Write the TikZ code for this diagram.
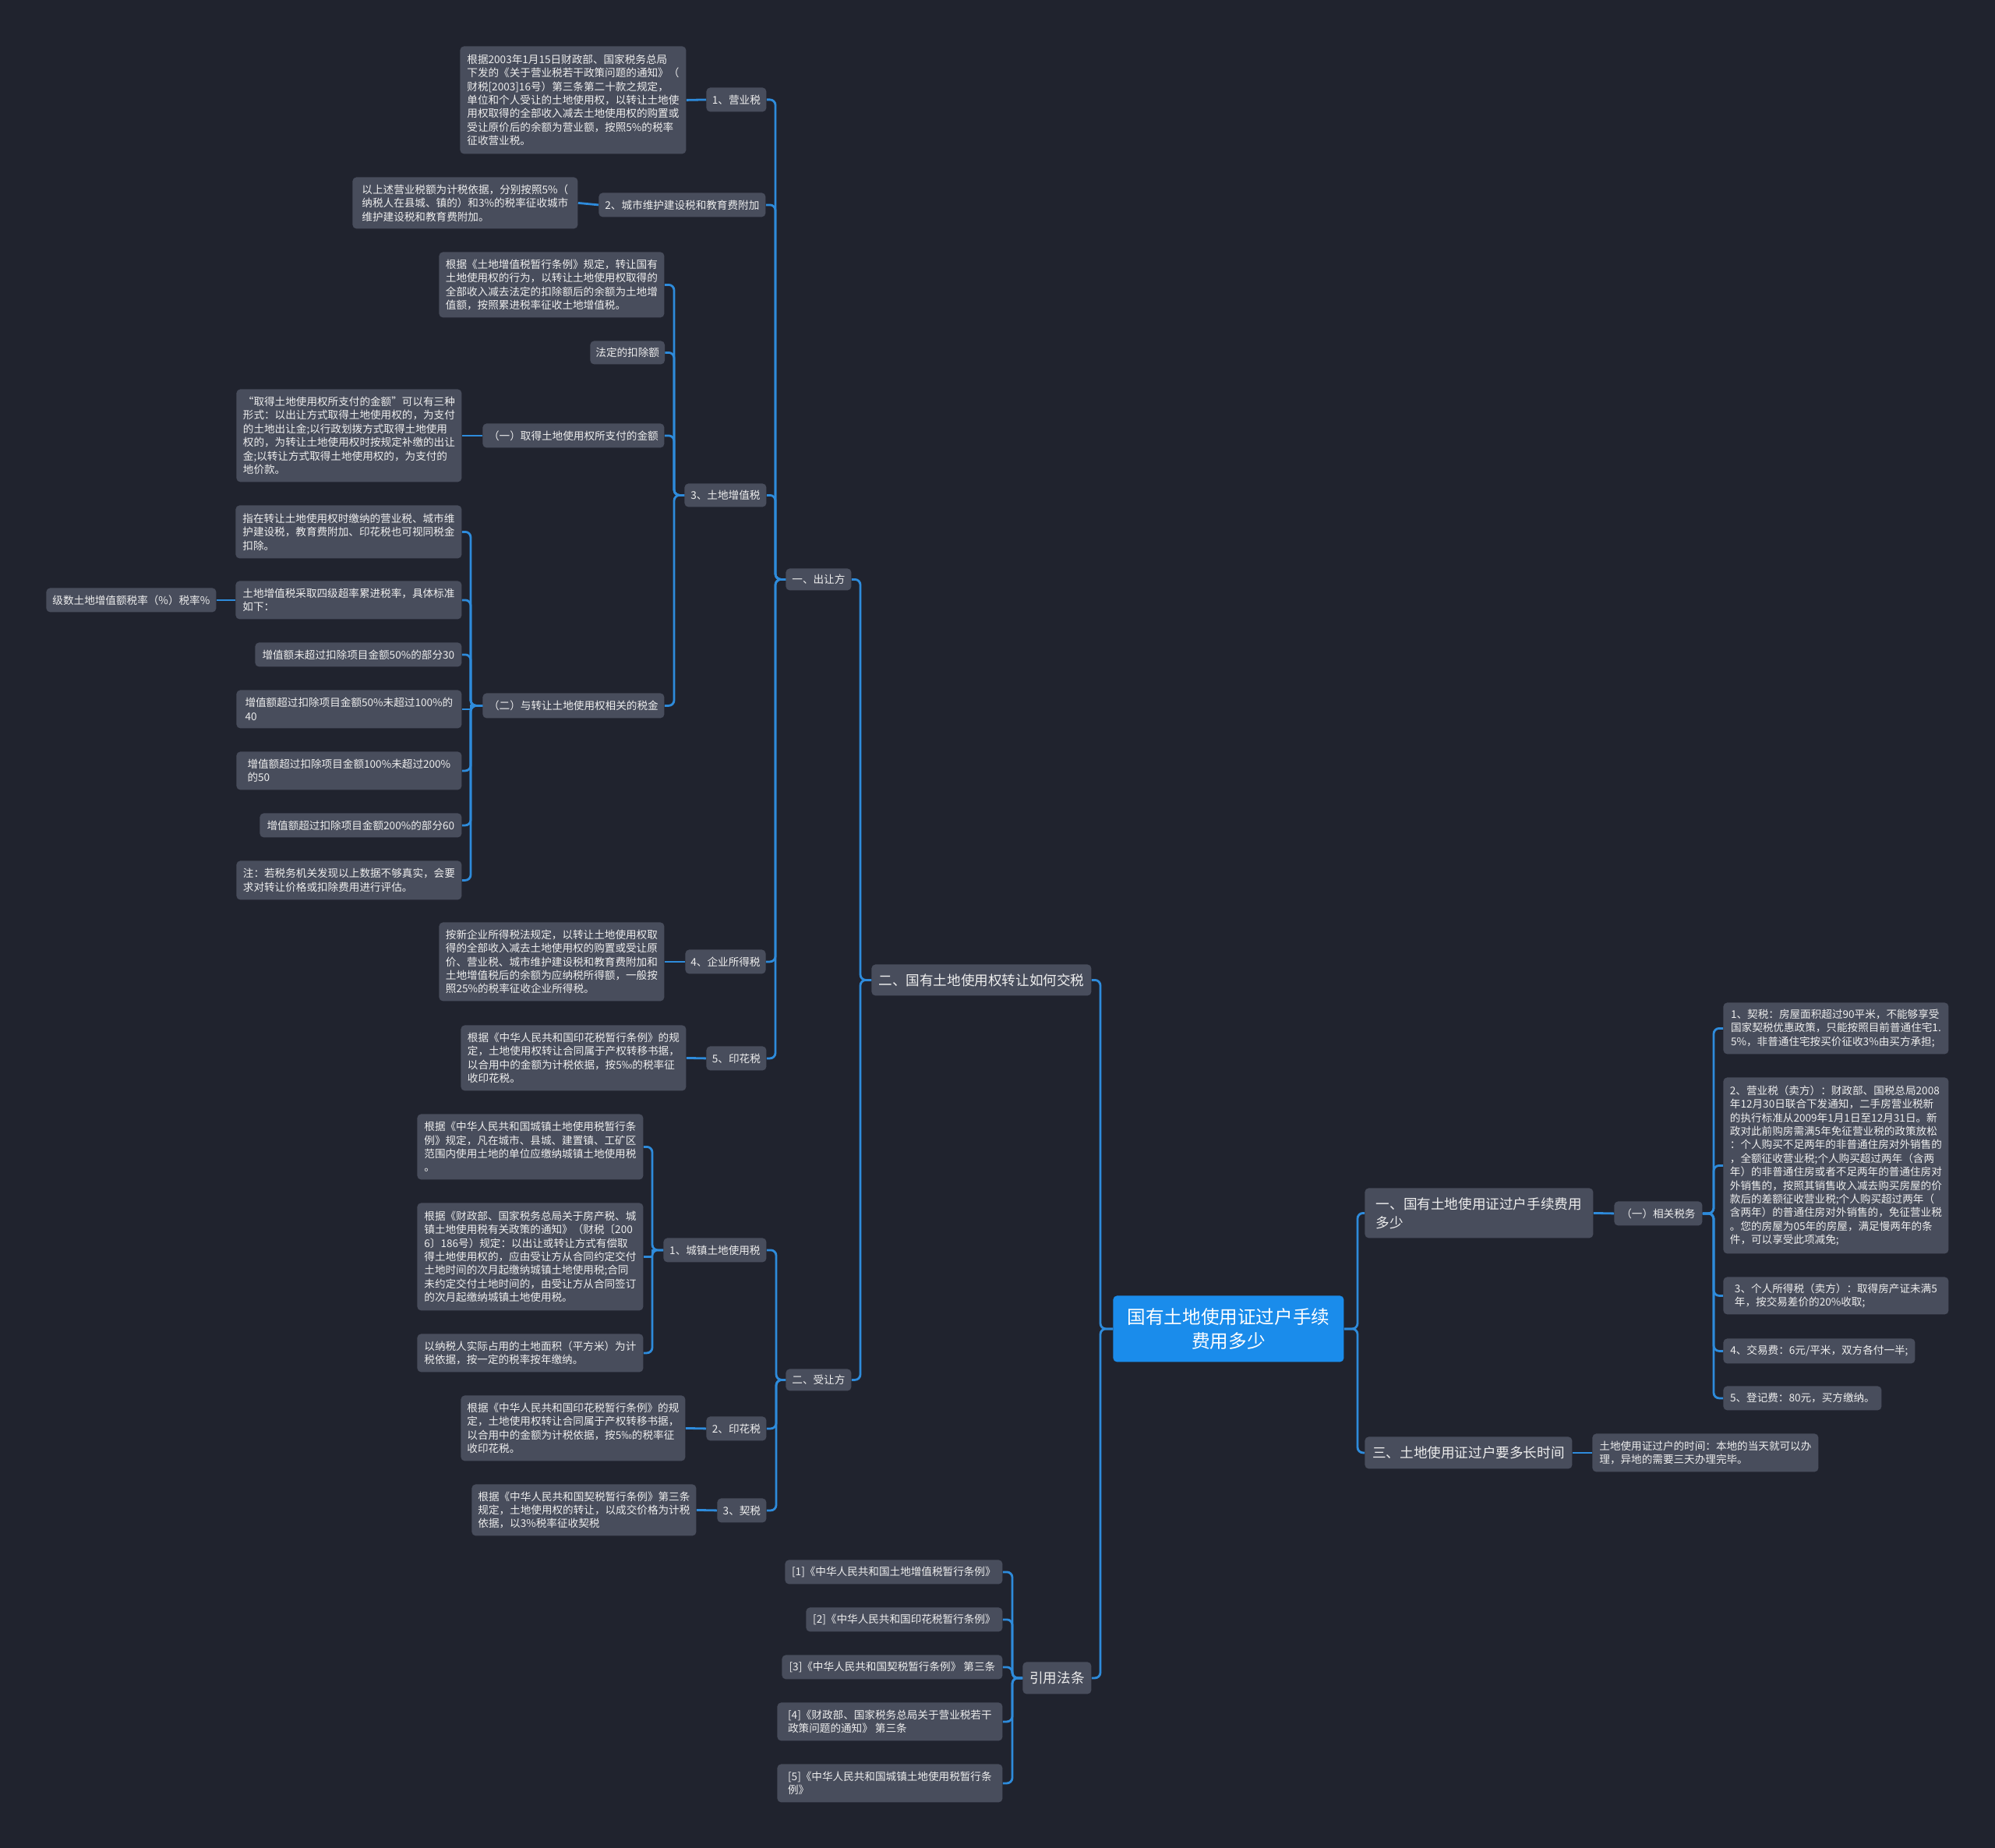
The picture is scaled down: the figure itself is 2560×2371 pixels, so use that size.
\documentclass[tikz,border=0pt]{standalone}
\usepackage{fontspec}
\setmainfont{Noto Sans CJK SC}
\definecolor{bgc}{HTML}{20232E}
\definecolor{boxc}{HTML}{484D5C}
\definecolor{txtc}{HTML}{EEEEEE}
\definecolor{linec}{HTML}{2E8BDB}
\definecolor{rootc}{HTML}{1A8CEB}
\newcommand\fsS{\fontsize{6.8pt}{8.7pt}\selectfont}
\newcommand\fsM{\fontsize{8.8pt}{12pt}\selectfont}
\newcommand\fsL{\fontsize{11.8pt}{15.5pt}\selectfont}
\newcommand\lnk[3]{\draw[conn] (#1.east) [rounded corners=3.5pt] -- (#1.east -| #3) -- (#3 |- #2.west) [sharp corners] -- (#2.west);}
\newcommand\lnks[3]{\draw[conn] (#1.east) -- (#1.east -| #3) -- (#3 |- #2.west) -- (#2.west);}
\newcommand\rnk[3]{\draw[conn] (#1.west) [rounded corners=3.5pt] -- (#1.west -| #3) -- (#3 |- #2.east) [sharp corners] -- (#2.east);}
\begin{document}
\begin{tikzpicture}[x=0.5pt,y=-0.5pt,
  box/.style={fill=boxc, text=txtc, rounded corners=2.5pt, inner xsep=3.5pt, inner ysep=0pt, anchor=north west, align=left, font=\fsS},
  rbox/.style={box},
  mbox/.style={box, font=\fsM},
  conn/.style={draw=linec, line width=1.4pt}]
\fill[bgc] (0,0) rectangle (2560,2371);
\useasboundingbox (0,0) rectangle (2560,2371);
% buses
\coordinate (bA) at (995,0);
\coordinate (bB) at (996,0);
\coordinate (bZ) at (865,0);
\coordinate (bQ) at (604,0);
\coordinate (bCZ) at (837,0);
\coordinate (bTwo) at (1104,0);
\coordinate (bYY) at (1299,0);
\coordinate (bRoot) at (1412,0);
\coordinate (bR) at (1742,0);
\coordinate (bXG) at (2199,0);
% root
\node[box, fill=rootc, text=white, font=\fsL, align=center, minimum width=148pt, minimum height=42.5pt] (root) at (1428,1662) {国有土地使用证过户手续\\费用多少};
% level 1 left
\node[mbox, minimum width=141pt, minimum height=20pt] (two) at (1118,1237) {二、国有土地使用权转让如何交税};
\node[mbox, minimum width=44pt, minimum height=20.5pt] (yy) at (1312,2132) {引用法条};
\node[box, minimum width=42pt, minimum height=14pt] (crf) at (1008,729) {一、出让方};
\node[box, minimum width=42pt, minimum height=14pt] (srf) at (1008,1756) {二、受让方};
% 出让方 children
\node[box, minimum width=38.5pt, minimum height=15.5pt] (yys) at (906,112) {1、营业税};
\node[box, minimum width=145pt, minimum height=69pt] (yyst) at (590,59) {根据2003年1月15日财政部、国家税务总局\\下发的《关于营业税若干政策问题的通知》（\\财税[2003]16号）第三条第二十款之规定，\\单位和个人受让的土地使用权，以转让土地使\\用权取得的全部收入减去土地使用权的购置或\\受让原价后的余额为营业额，按照5\%的税率\\征收营业税。};
\node[box, minimum width=107pt, minimum height=15.5pt] (cs) at (768,247) {2、城市维护建设税和教育费附加};
\node[box, minimum width=144.5pt, minimum height=33pt] (cst) at (452,227) {以上述营业税额为计税依据，分别按照5\%（\\纳税人在县城、镇的）和3\%的税率征收城市\\维护建设税和教育费附加。};
\node[box, minimum width=52.5pt, minimum height=15pt] (zz) at (878,620) {3、土地增值税};
\node[box, minimum width=144.5pt, minimum height=42pt] (zzt) at (563,323) {根据《土地增值税暂行条例》规定，转让国有\\土地使用权的行为，以转让土地使用权取得的\\全部收入减去法定的扣除额后的余额为土地增\\值额，按照累进税率征收土地增值税。};
\node[box, minimum width=47.5pt, minimum height=15pt] (fd) at (757,437) {法定的扣除额};
\node[box, minimum width=116.5pt, minimum height=15.5pt] (q1) at (619,543) {（一）取得土地使用权所支付的金额};
\node[box, minimum width=144.5pt, minimum height=59.5pt] (q1t) at (303,499) {“取得土地使用权所支付的金额”可以有三种\\形式：以出让方式取得土地使用权的，为支付\\的土地出让金;以行政划拨方式取得土地使用\\权的，为转让土地使用权时按规定补缴的出让\\金;以转让方式取得土地使用权的，为支付的\\地价款。};
\node[box, minimum width=116.5pt, minimum height=16pt] (q2) at (619,889) {（二）与转让土地使用权相关的税金};
\node[box, minimum width=145pt, minimum height=34pt] (a1) at (302,648) {指在转让土地使用权时缴纳的营业税、城市维\\护建设税，教育费附加、印花税也可视同税金\\扣除。};
\node[box, minimum width=145pt, minimum height=24.5pt] (a2) at (302,745) {土地增值税采取四级超率累进税率，具体标准\\如下：};
\node[box, minimum width=109pt, minimum height=15.5pt] (a2c) at (59,754) {级数土地增值额税率（\%）税率\%};
\node[box, minimum width=132.5pt, minimum height=15.5pt] (a3) at (327,824) {增值额未超过扣除项目金额50\%的部分30};
\node[box, minimum width=144.5pt, minimum height=24.5pt] (a4) at (303,885) {增值额超过扣除项目金额50\%未超过100\%的\\40};
\node[box, minimum width=144.5pt, minimum height=24.5pt] (a5) at (303,964) {增值额超过扣除项目金额100\%未超过200\%\\的50};
\node[box, minimum width=129.5pt, minimum height=15.5pt] (a6) at (333,1043) {增值额超过扣除项目金额200\%的部分60};
\node[box, minimum width=144.5pt, minimum height=25pt] (a7) at (303,1104) {注：若税务机关发现以上数据不够真实，会要\\求对转让价格或扣除费用进行评估。};
\node[box, minimum width=51pt, minimum height=15.5pt] (qy) at (879,1218) {4、企业所得税};
\node[box, minimum width=144.5pt, minimum height=50.5pt] (qyt) at (563,1183) {按新企业所得税法规定，以转让土地使用权取\\得的全部收入减去土地使用权的购置或受让原\\价、营业税、城市维护建设税和教育费附加和\\土地增值税后的余额为应纳税所得额，一般按\\照25\%的税率征收企业所得税。};
\node[box, minimum width=38.5pt, minimum height=15.5pt] (yh) at (906,1342) {5、印花税};
\node[box, minimum width=144.5pt, minimum height=42pt] (yht) at (591,1315) {根据《中华人民共和国印花税暂行条例》的规\\定，土地使用权转让合同属于产权转移书据，\\以合用中的金额为计税依据，按5‰的税率征\\收印花税。};
% 受让方 children
\node[box, minimum width=66pt, minimum height=15.5pt] (cz) at (851,1588) {1、城镇土地使用税};
\node[box, minimum width=145pt, minimum height=42pt] (cza) at (535,1429) {根据《中华人民共和国城镇土地使用税暂行条\\例》规定，凡在城市、县城、建置镇、工矿区\\范围内使用土地的单位应缴纳城镇土地使用税\\。};
\node[box, minimum width=145pt, minimum height=69pt] (czb) at (535,1543) {根据《财政部、国家税务总局关于房产税、城\\镇土地使用税有关政策的通知》（财税〔200\\6〕186号）规定：以出让或转让方式有偿取\\得土地使用权的，应由受让方从合同约定交付\\土地时间的次月起缴纳城镇土地使用税;合同\\未约定交付土地时间的，由受让方从合同签订\\的次月起缴纳城镇土地使用税。};
\node[box, minimum width=145pt, minimum height=24.5pt] (czc) at (535,1711) {以纳税人实际占用的土地面积（平方米）为计\\税依据，按一定的税率按年缴纳。};
\node[box, minimum width=38.5pt, minimum height=15.5pt] (yh2) at (906,1817) {2、印花税};
\node[box, minimum width=144pt, minimum height=42pt] (yh2t) at (591,1790) {根据《中华人民共和国印花税暂行条例》的规\\定，土地使用权转让合同属于产权转移书据，\\以合用中的金额为计税依据，按5‰的税率征\\收印花税。};
\node[box, minimum width=31.5pt, minimum height=15.5pt] (qs) at (920,1922) {3、契税};
\node[box, minimum width=144pt, minimum height=33pt] (qst) at (605,1904) {根据《中华人民共和国契税暂行条例》第三条\\规定，土地使用权的转让，以成交价格为计税\\依据，以3\%税率征收契税};
% 引用法条 children
\node[box, minimum width=139.5pt, minimum height=15.5pt] (r1) at (1007,2001) {[1]《中华人民共和国土地增值税暂行条例》};
\node[box, minimum width=126pt, minimum height=15.5pt] (r2) at (1034,2062) {[2]《中华人民共和国印花税暂行条例》};
\node[box, minimum width=141.5pt, minimum height=15.5pt] (r3) at (1003,2123) {[3]《中华人民共和国契税暂行条例》 第三条};
\node[box, minimum width=144.5pt, minimum height=24.5pt] (r4) at (997,2184) {[4]《财政部、国家税务总局关于营业税若干\\政策问题的通知》 第三条};
\node[box, minimum width=144.5pt, minimum height=24.5pt] (r5) at (997,2263) {[5]《中华人民共和国城镇土地使用税暂行条\\例》};
% right side
\node[mbox, minimum width=146.5pt, minimum height=32pt] (one) at (1751,1524) {一、国有土地使用证过户手续费用\\多少};
\node[box, minimum width=56.5pt, minimum height=15.5pt] (xg) at (2071,1541) {（一）相关税务};
\node[rbox, minimum width=144.5pt, minimum height=33pt] (i1) at (2211,1286) {1、契税：房屋面积超过90平米，不能够享受\\国家契税优惠政策，只能按照目前普通住宅1.\\5\%，非普通住宅按买价征收3\%由买方承担;};
\node[rbox, minimum width=144.5pt, minimum height=113pt] (i2) at (2211,1382) {2、营业税（卖方）：财政部、国税总局2008\\年12月30日联合下发通知，二手房营业税新\\的执行标准从2009年1月1日至12月31日。新\\政对此前购房需满5年免征营业税的政策放松\\：个人购买不足两年的非普通住房对外销售的\\，全额征收营业税;个人购买超过两年（含两\\年）的非普通住房或者不足两年的普通住房对\\外销售的，按照其销售收入减去购买房屋的价\\款后的差额征收营业税;个人购买超过两年（\\含两年）的普通住房对外销售的，免征营业税\\。您的房屋为05年的房屋，满足慢两年的条\\件，可以享受此项减免;};
\node[rbox, minimum width=144.5pt, minimum height=24pt] (i3) at (2211,1638) {3、个人所得税（卖方）：取得房产证未满5\\年，按交易差价的20\%收取;};
\node[rbox, minimum width=123pt, minimum height=16pt] (i4) at (2211,1717) {4、交易费：6元/平米，双方各付一半;};
\node[rbox, minimum width=101.5pt, minimum height=15.5pt] (i5) at (2211,1778) {5、登记费：80元，买方缴纳。};
\node[mbox, minimum width=133pt, minimum height=20.5pt] (three) at (1751,1843) {三、土地使用证过户要多长时间};
\node[rbox, minimum width=145pt, minimum height=24.5pt] (threet) at (2043,1839) {土地使用证过户的时间：本地的当天就可以办\\理，异地的需要三天办理完毕。};
% connectors: left tree
\lnk{two}{root}{bRoot}
\lnk{yy}{root}{bRoot}
\lnk{crf}{two}{bTwo}
\lnk{srf}{two}{bTwo}
\lnk{yys}{crf}{bA}
\lnk{cs}{crf}{bA}
\lnk{zz}{crf}{bA}
\lnk{qy}{crf}{bA}
\lnk{yh}{crf}{bA}
\draw[conn] (yyst.east) -- (yys.west);
\draw[conn] (cst.east) -- (cs.west);
\lnk{zzt}{zz}{bZ}
\lnk{fd}{zz}{bZ}
\lnk{q1}{zz}{bZ}
\lnk{q2}{zz}{bZ}
\draw[conn] (q1t.east) -- (q1.west);
\lnk{a1}{q2}{bQ}
\lnk{a2}{q2}{bQ}
\lnk{a3}{q2}{bQ}
\lnks{a4}{q2}{bQ}
\lnk{a5}{q2}{bQ}
\lnk{a6}{q2}{bQ}
\lnk{a7}{q2}{bQ}
\draw[conn] (a2c.east) -- (a2.west);
\draw[conn] (qyt.east) -- (qy.west);
\draw[conn] (yht.east) -- (yh.west);
\lnk{cz}{srf}{bB}
\lnk{yh2}{srf}{bB}
\lnk{qs}{srf}{bB}
\lnk{cza}{cz}{bCZ}
\lnks{czb}{cz}{bCZ}
\lnk{czc}{cz}{bCZ}
\draw[conn] (yh2t.east) -- (yh2.west);
\draw[conn] (qst.east) -- (qs.west);
\lnk{r1}{yy}{bYY}
\lnk{r2}{yy}{bYY}
\lnk{r3}{yy}{bYY}
\lnk{r4}{yy}{bYY}
\lnk{r5}{yy}{bYY}
% right tree
\rnk{one}{root}{bR}
\rnk{three}{root}{bR}
\draw[conn] (one.east) -- (xg.west);
\rnk{i1}{xg}{bXG}
\rnk{i2}{xg}{bXG}
\rnk{i3}{xg}{bXG}
\rnk{i4}{xg}{bXG}
\rnk{i5}{xg}{bXG}
\draw[conn] (three.east) -- (threet.west);
\end{tikzpicture}
\end{document}
